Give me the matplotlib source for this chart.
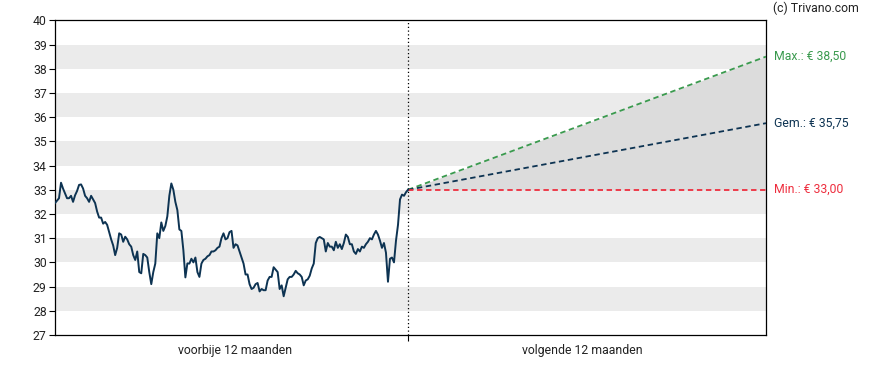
import numpy as np
import matplotlib
matplotlib.use("Agg")
import matplotlib.pyplot as plt

plt.rcParams['font.family'] = ['Roboto', 'DejaVu Sans']

# koers voorbije 12 maanden (gelijk verdeeld over de periode)
prices = [
    32.45, 32.55, 32.65, 33.29, 33.05, 32.85, 32.65, 32.65, 32.75, 32.5,
    32.77, 32.95, 33.2, 33.22, 33.05, 32.75, 32.65, 32.5, 32.75, 32.6,
    32.45, 32.1, 31.85, 31.85, 31.6, 31.67, 31.55, 31.25, 30.95, 30.7,
    30.3, 30.6, 31.2, 31.15, 30.85, 31.06, 30.95, 30.75, 30.65, 30.3,
    30.1, 30.45, 29.6, 29.55, 30.35, 30.3, 30.2, 29.6, 29.1, 29.6,
    29.95, 31.2, 31.0, 31.65, 31.3, 31.5, 31.9, 32.75, 33.26, 33.0,
    32.5, 32.16, 31.36, 31.3, 30.5, 29.38, 29.96, 29.95, 30.15, 30.0,
    30.2, 29.6, 29.4, 29.95, 30.1, 30.15, 30.25, 30.3, 30.45, 30.45,
    30.5, 30.6, 30.65, 31.0, 31.2, 30.95, 31.0, 31.25, 31.3, 30.6,
    30.75, 30.7, 30.45, 30.2, 29.95, 29.5, 29.5, 29.1, 28.9, 28.95,
    29.1, 29.15, 28.8, 28.9, 28.85, 28.85, 29.25, 29.4, 29.4, 29.8,
    29.7, 29.6, 28.9, 29.05, 28.6, 28.95, 29.3, 29.4, 29.4, 29.5,
    29.65, 29.55, 29.5, 29.4, 29.05, 29.25, 29.3, 29.45, 29.75, 29.95,
    30.8, 31.0, 31.05, 31.0, 30.95, 30.45, 30.8, 30.65, 30.65, 30.5,
    30.85, 30.6, 30.75, 30.55, 30.8, 31.15, 31.05, 30.75, 30.75, 30.45,
    30.35, 30.55, 30.45, 30.65, 30.6, 30.75, 30.85, 31.0, 30.95, 31.15,
    31.3, 31.15, 30.9, 30.6, 30.8, 30.4, 29.2, 30.15, 30.2, 30.0,
    30.9, 31.55, 32.6, 32.8, 32.75, 32.9, 33.0,
]

# koersdoelen over 12 maanden
target_max = 38.50
target_avg = 35.75
target_min = 33.00

y_ticks = list(range(27, 41))
period_labels = ["voorbije 12 maanden", "volgende 12 maanden"]

price_color = "#0d3352"
max_color = "#3a9a4e"
avg_color = "#0d3352"
min_color = "#ee2e3e"
text_color = "#222222"
fs = 8.8

fig = plt.figure(figsize=(8.88, 3.70), dpi=100)
ax = fig.add_axes([55 / 888, 35 / 370, 711 / 888, 314.7 / 370])

# grijze banden
for lo in range(28, 40, 2):
    ax.axhspan(lo, lo + 1, color="#ebebeb", lw=0, zorder=0)

past_x = np.linspace(0, 1, len(prices))
ax.plot(past_x, prices, color=price_color, lw=1.4, zorder=4)

# prognose (iets langer dan de voorbije periode)
future_end = 2.014
last = prices[-1]
fx = [1, future_end]
ax.fill_between(fx, [last, target_min], [last, target_max], color="#dcdcdc", lw=0, zorder=1)
ax.plot(fx, [last, target_max], color=max_color, lw=1.3, ls=(0, (3, 2)), zorder=3)
ax.plot(fx, [last, target_avg], color=avg_color, lw=1.3, ls=(0, (3, 2)), zorder=3)
ax.plot(fx, [last, target_min], color=min_color, lw=1.3, ls=(0, (3, 2)), zorder=3)

ax.axvline(1, color="black", lw=0.9, ls=(0, (1, 2)), zorder=2)

ax.set_xlim(0, future_end)
ax.set_ylim(27, 40)
ax.set_yticks(y_ticks)
ax.set_yticklabels([str(t) for t in y_ticks], fontsize=fs, color=text_color)
ax.tick_params(axis="y", length=4, width=0.8, pad=2)

ax.set_xticks([1])
ax.set_xticklabels([""])
ax.tick_params(axis="x", length=4, width=0.8)
for xc, lab in zip([0.51, 1.495], period_labels):
    ax.text(xc, -0.03, lab, transform=ax.get_xaxis_transform(),
            ha="center", va="top", fontsize=fs, color=text_color)

for sp in ax.spines.values():
    sp.set_color("black")
    sp.set_linewidth(0.9)

# labels rechts
ax.annotate("Max.: € 38,50", (future_end, target_max), xytext=(8, 0), textcoords="offset pixels",
            color=max_color, fontsize=fs, va="center", ha="left", annotation_clip=False)
ax.annotate("Gem.: € 35,75", (future_end, target_avg), xytext=(8, 0), textcoords="offset pixels",
            color=avg_color, fontsize=fs, va="center", ha="left", annotation_clip=False)
ax.annotate("Min.: € 33,00", (future_end, target_min), xytext=(8, 0), textcoords="offset pixels",
            color=min_color, fontsize=fs, va="center", ha="left", annotation_clip=False)

fig.text(773 / 888, 1 - 8 / 370, "(c) Trivano.com", fontsize=fs, color=text_color, ha="left", va="center")

fig.savefig("out.png", dpi=100)
